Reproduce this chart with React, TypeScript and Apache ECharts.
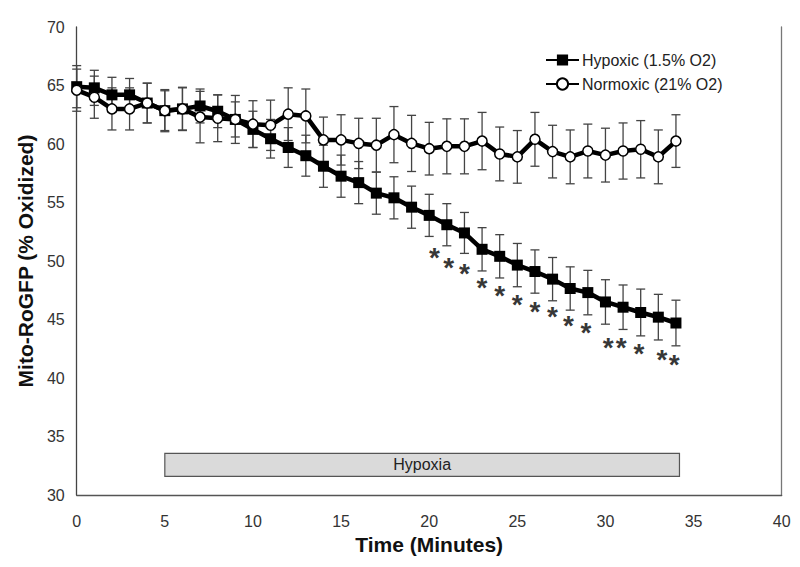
import React, { useEffect, useRef } from "react";
import * as echarts from "echarts";

const times = [0,1,2,3,4,5,6,7,8,9,10,11,12,13,14,15,16,17,18,19,20,21,22,23,24,25,26,27,28,29,30,31,32,33,34];
const hypoxicMean = [64.9,64.8,64.2,64.2,63.5,62.85,63.0,63.25,62.8,62.1,61.25,60.45,59.7,59.0,58.1,57.25,56.7,55.8,55.4,54.6,53.9,53.1,52.4,51.0,50.4,49.65,49.1,48.45,47.65,47.3,46.5,46.05,45.6,45.2,44.7];
const hypoxicSD = [1.8,1.5,1.5,1.4,1.7,1.7,1.8,1.45,1.4,1.5,1.55,1.65,1.7,1.75,1.8,1.8,1.8,1.8,1.8,1.8,1.8,1.8,1.75,1.85,1.85,1.85,1.85,1.85,1.85,1.9,1.9,1.9,2.0,1.95,1.95];
const normoxicMean = [64.6,64.0,63.0,63.0,63.5,62.85,63.0,62.3,62.2,62.1,61.7,61.6,62.55,62.4,60.35,60.35,60.05,59.9,60.8,60.05,59.6,59.8,59.8,60.25,59.15,58.9,60.4,59.35,58.9,59.4,59.05,59.4,59.55,58.9,60.25];
const normoxicSD = [1.8,1.8,1.8,1.8,1.7,1.8,1.85,2.2,2.0,2.05,2.0,2.15,2.25,2.3,1.95,2.15,2.15,2.3,2.4,2.4,2.25,2.35,2.35,2.45,2.3,2.25,2.3,2.25,2.3,2.3,2.3,2.4,2.45,2.3,2.25];
const starTimes = [20.3,21.1,22.0,23.0,24.0,25.0,26.0,27.0,27.9,28.9,30.15,30.9,31.9,33.2,33.9];
const starValues = [51.0,50.1,49.6,48.4,47.7,46.95,46.4,45.9,45.15,44.6,43.3,43.3,42.75,42.25,41.8];
const hypoxiaStart = 5;
const hypoxiaEnd = 34.2;
const hypoxiaLow = 31.6;
const hypoxiaHigh = 33.55;
const hypoxiaLabel = "Hypoxia";
const hypoxicName = "Hypoxic (1.5% O2)";
const normoxicName = "Normoxic (21% O2)";

const FONT = "'Liberation Sans', Arial, sans-serif";

export default function App() {
  const ref = useRef<HTMLDivElement>(null);
  useEffect(() => {
    if (!ref.current) return;
    const chart = echarts.init(ref.current, null, { renderer: "svg" });
    const errData = (mean: number[], sd: number[]) =>
      times.map((t, i) => [t, mean[i] - sd[i], mean[i] + sd[i]]);
    const renderErr = (params: any, api: any) => {
      const x = api.value(0);
      const pLo = api.coord([x, api.value(1)]);
      const pHi = api.coord([x, api.value(2)]);
      const w = 4.5;
      const style = { stroke: "#444", lineWidth: 1.3 };
      return {
        type: "group",
        children: [
          { type: "line", shape: { x1: pHi[0], y1: pHi[1], x2: pLo[0], y2: pLo[1] }, style },
          { type: "line", shape: { x1: pHi[0] - w, y1: pHi[1], x2: pHi[0] + w, y2: pHi[1] }, style },
          { type: "line", shape: { x1: pLo[0] - w, y1: pLo[1], x2: pLo[0] + w, y2: pLo[1] }, style },
        ],
      };
    };
    chart.setOption({
      animation: false,
      backgroundColor: "#fff",
      textStyle: { fontFamily: FONT },
      grid: { left: 76.7, right: 18.3, top: 27, bottom: 72, containLabel: false },
      legend: {
        data: [hypoxicName, normoxicName],
        orient: "vertical",
        left: 540,
        top: 47,
        itemWidth: 33,
        itemHeight: 14,
        itemGap: 8,
        textStyle: { fontSize: 16, color: "#222", fontFamily: FONT, lineHeight: 16, padding: [0, 0, 0, -2] },
      },
      xAxis: {
        type: "value",
        min: 0,
        max: 40,
        interval: 5,
        name: "Time (Minutes)",
        nameLocation: "middle",
        nameGap: 38,
        nameTextStyle: { fontSize: 21, fontWeight: "bold", color: "#111", fontFamily: FONT },
        axisLine: { show: true, lineStyle: { color: "#555", width: 1.3 } },
        axisTick: { show: false },
        splitLine: { show: false },
        axisLabel: { fontSize: 16, color: "#333", margin: 18, fontFamily: FONT },
      },
      yAxis: [
        {
          type: "value",
          min: 30,
          max: 70,
          interval: 5,
          name: "Mito-RoGFP (% Oxidized)",
          nameLocation: "middle",
          nameGap: 40,
          nameTextStyle: { fontSize: 21, fontWeight: "bold", color: "#111", fontFamily: FONT },
          axisLine: { show: true, lineStyle: { color: "#444", width: 1.3 } },
          axisTick: { show: false },
          splitLine: { show: false },
          axisLabel: { fontSize: 16, color: "#333", margin: 12, fontFamily: FONT },
        },
        {
          type: "value",
          min: 30,
          max: 70,
          interval: 5,
          position: "right",
          axisLine: { show: true, lineStyle: { color: "#777", width: 1.3 } },
          axisTick: { show: false },
          splitLine: { show: false },
          axisLabel: { show: false },
        },
      ],
      series: [
        {
          type: "custom",
          name: "hypErr",
          renderItem: renderErr,
          data: errData(hypoxicMean, hypoxicSD),
          encode: { x: 0, y: [1, 2] },
          z: 1,
          silent: true,
          markArea: {
            silent: true,
            itemStyle: { color: "#dadada", borderColor: "#555", borderWidth: 1.2 },
            label: { show: true, position: "inside", formatter: hypoxiaLabel, fontSize: 16, color: "#222", fontFamily: FONT },
            data: [[{ xAxis: hypoxiaStart, yAxis: hypoxiaLow }, { xAxis: hypoxiaEnd, yAxis: hypoxiaHigh }]],
          },
        },
        {
          type: "custom",
          name: "norErr",
          renderItem: renderErr,
          data: errData(normoxicMean, normoxicSD),
          encode: { x: 0, y: [1, 2] },
          z: 1,
          silent: true,
        },
        {
          type: "line",
          name: hypoxicName,
          data: times.map((t, i) => [t, hypoxicMean[i]]),
          symbol: "rect",
          symbolSize: 11,
          showAllSymbol: true,
          lineStyle: { color: "#000", width: 4.5 },
          itemStyle: { color: "#000", borderColor: "#000", borderWidth: 0 },
          z: 3,
        },
        {
          type: "line",
          name: normoxicName,
          data: times.map((t, i) => [t, normoxicMean[i]]),
          symbol: "circle",
          symbolSize: 10,
          showAllSymbol: true,
          lineStyle: { color: "#000", width: 4.5 },
          itemStyle: { color: "#fff", borderColor: "#000", borderWidth: 1.5 },
          z: 4,
        },
        {
          type: "scatter",
          name: "stars",
          data: starTimes.map((t, i) => [t, starValues[i]]),
          symbolSize: 1,
          itemStyle: { color: "rgba(0,0,0,0)" },
          label: {
            show: true,
            position: "inside",
            formatter: "*",
            fontSize: 28,
            fontWeight: "bold",
            color: "#000",
            offset: [0, 8],
            fontFamily: FONT,
          },
          z: 5,
          silent: true,
        },
      ],
    });
    return () => chart.dispose();
  }, []);
  return <div ref={ref} style={{ width: 800, height: 567, position: "absolute", left: 0, top: 0 }} />;
}
